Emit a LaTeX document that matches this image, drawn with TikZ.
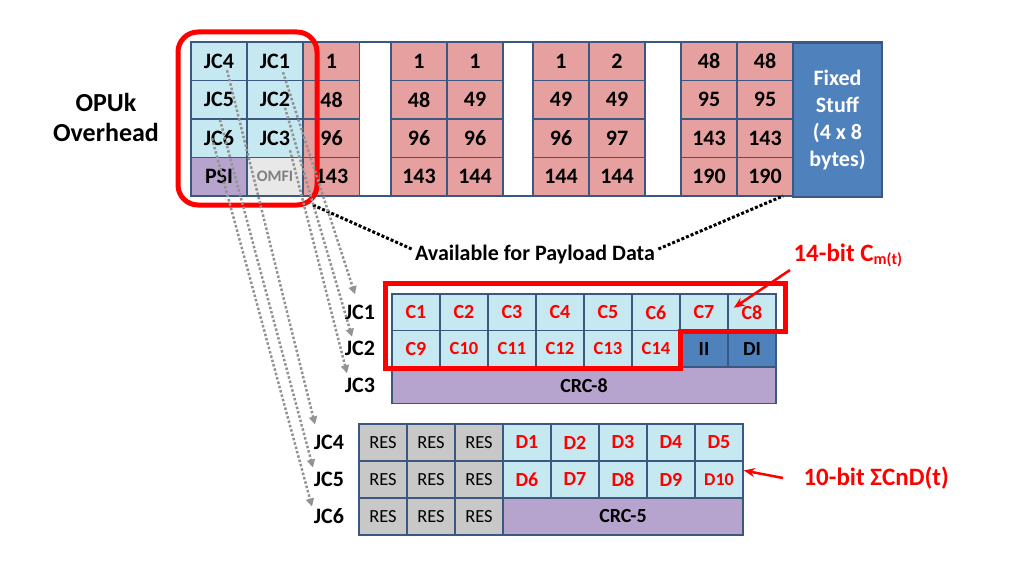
\documentclass[tikz,border=0pt]{standalone}
\usepackage{fontspec}
\setmainfont{Carlito}
\usetikzlibrary{arrows.meta,positioning}

\definecolor{cellline}{RGB}{59,89,128}
\definecolor{cellblue}{RGB}{198,233,241}
\definecolor{cellpink}{RGB}{230,160,160}
\definecolor{cellpurple}{RGB}{182,164,206}
\definecolor{cellgray}{RGB}{200,200,200}
\definecolor{omfigray}{RGB}{232,232,232}
\definecolor{fixedblue}{RGB}{79,129,189}
\definecolor{hlred}{RGB}{255,0,0}

\tikzset{
  cell/.style={draw=cellline, line width=1.6pt, inner sep=0pt,
    font=\fontsize{22}{26}\selectfont\bfseries},
  topcell/.style={cell, minimum width=56pt, minimum height=38.5pt},
  midcell/.style={cell, minimum width=48pt, minimum height=36.5pt,
    font=\fontsize{20}{24}\selectfont\bfseries},
  lowcell/.style={cell, minimum width=48pt, minimum height=37pt,
    font=\fontsize{20}{24}\selectfont\bfseries},
  rescell/.style={lowcell, fill=cellgray, font=\fontsize{18.5}{22}\selectfont},
  jclabel/.style={font=\fontsize{22}{26}\selectfont\bfseries},
  redlabel/.style={font=\fontsize{25}{30}\selectfont\bfseries, text=hlred, anchor=west},
  linkarrow/.style={draw=gray!85, dotted, line width=2.5pt,
    -{Triangle[length=8pt,width=8pt]}},
  payloadline/.style={draw=black, dotted, line width=3pt},
  redarrow/.style={draw=hlred, line width=2.5pt, -{Stealth[length=11pt,width=9pt]}}
}

\begin{document}
\begin{tikzpicture}[x=1pt, y=-1pt]
    \useasboundingbox (0,0) rectangle (1024,580);

    % OPUk label
    \node[font=\fontsize{26}{30}\selectfont\bfseries, align=center] (opuk) at (106,117) {OPUk\\Overhead};

    % Frame outline
    \draw[cellline, line width=1.2pt] (191,42) rectangle (882,196);

    % Overhead columns
    \node[topcell, fill=cellblue] (jc4) at (219,61.25) {JC4};
    \node[topcell, fill=cellblue] (jc5) at (219,99.75) {JC5};
    \node[topcell, fill=cellblue] (jc6) at (219,138.25) {JC6};
    \node[topcell, fill=cellpurple] (psi) at (219,176.75) {PSI};
    \node[topcell, fill=cellblue] (jc1) at (275,61.25) {JC1};
    \node[topcell, fill=cellblue] (jc2) at (275,99.75) {JC2};
    \node[topcell, fill=cellblue] (jc3) at (275,138.25) {JC3};
    \node[topcell, fill=omfigray, text=gray, font=\fontsize{16}{20}\selectfont\bfseries] (omfi) at (275,176.75) {OMFI};

    % Payload columns
    \foreach \x/\col/\vals in {331.5/pa/{1,48,96,143}, 419/pb/{1,48,96,143}, 475/pc/{1,49,96,144},
                               561/pd/{1,49,96,144}, 617/pe/{2,49,97,144},
                               709/pf/{48,95,143,190}, 765/pg/{48,95,143,190}} {
        \foreach \v [count=\r] in \vals {
            \node[topcell, fill=cellpink] (\col\r) at (\x, {22.75+38.5*\r}) {\v};
        }
    }

    % Fixed stuff
    \node[cell, fill=fixedblue, text=white, minimum width=89pt, minimum height=154pt,
          align=center, font=\fontsize{22}{27}\selectfont\bfseries] (fixed) at (837.5,120)
          {Fixed\\Stuff\\(4 x 8\\bytes)};

    % Overhead highlight
    \draw[hlred, line width=5pt, rounded corners=20pt] (178,32) rectangle (317,205);

    % Payload note
    \node[font=\fontsize{22}{26}\selectfont\bfseries] (payload) at (535,255) {Available for Payload Data};
    \coordinate (plstart) at (313,205);
    \coordinate (plend) at (783,196);
    \draw[payloadline] (plstart) -- ([yshift=6pt]payload.west);
    \draw[payloadline] ([yshift=6pt]payload.east) -- (plend);

    % JC1-JC3 bytes
    \foreach \n [count=\i from 0] in {1,...,8} {
        \node[midcell, fill=cellblue, text=hlred] (c\n) at ({416+48*\i},312.25) {C\n};
    }
    \foreach \n/\fsz [count=\i from 0] in {9/20,10/18.5,11/18.5,12/18.5,13/18.5,14/18.5} {
        \node[midcell, fill=cellblue, text=hlred] (c\n) at ({416+48*\i},348.75)
            {\fontsize{\fsz}{\fsz}\selectfont C\n};
    }
    \node[midcell, fill=fixedblue] (ii) at (704,348.75) {II};
    \node[midcell, fill=fixedblue] (di) at (752,348.75) {DI};
    \node[midcell, fill=cellpurple, minimum width=384pt] (crc8) at (584,385.25) {CRC-8};

    \node[jclabel] (l1) at (360,312.25) {JC1};
    \node[jclabel] (l2) at (360,348.75) {JC2};
    \node[jclabel] (l3) at (360,385.25) {JC3};

    % Cm highlight
    \draw[hlred, line width=5pt] (385,283) -- (785,283) -- (785,331) -- (680,331)
        -- (680,368) -- (385,368) -- cycle;

    % JC4-JC6 bytes
    \foreach \r/\y in {1/442.5, 2/479.5, 3/516.5} {
        \foreach \i in {0,1,2} {
            \node[rescell] (res\r\i) at ({383+48*\i},\y) {RES};
        }
    }
    \foreach \n [count=\i from 3] in {1,...,5} {
        \node[lowcell, fill=cellblue, text=hlred] (d\n) at ({383+48*\i},442.5) {D\n};
    }
    \foreach \n/\fsz [count=\i from 3] in {6/20,7/20,8/20,9/20,10/18} {
        \node[lowcell, fill=cellblue, text=hlred] (d\n) at ({383+48*\i},479.5)
            {\fontsize{\fsz}{\fsz}\selectfont D\n};
    }
    \node[lowcell, fill=cellpurple, minimum width=240pt] (crc5) at (623,516.5) {CRC-5};

    \node[jclabel] (l4) at (329,442.5) {JC4};
    \node[jclabel] (l5) at (329,479.5) {JC5};
    \node[jclabel] (l6) at (329,516.5) {JC6};

    % Red notes
    \node[redlabel] (cm) at (790,255)
        {14-bit C{\fontsize{16}{16}\selectfont\raisebox{-3pt}{m(t)}}};
    \node[redlabel] (sig) at (800,478) {10-bit ΣCnD(t)};
    \draw[redarrow, shorten >=8pt] (cm.south west) -- (c8.west);
    \draw[redarrow] ([xshift=-17pt]sig.west) -- (d10.20);

    % Overhead mapping
    \draw[linkarrow] ([shift={(8,9)}]jc4.center) -- ([shift={(-14,-18)}]l4.center);
    \draw[linkarrow] ([shift={(1,20)}]jc5.center) -- ([shift={(-16,-12)}]l5.center);
    \draw[linkarrow] ([shift={(-7,0)}]jc6.center) -- ([shift={(-17,-10)}]l6.center);
    \draw[linkarrow] ([shift={(8,11)}]jc1.center) -- ([shift={(-5,-18)}]l1.center);
    \draw[linkarrow] ([shift={(10,8)}]jc2.center) -- ([shift={(-8,-12)}]l2.center);
    \draw[linkarrow] ([shift={(15,12)}]jc3.center) -- ([shift={(-13,-12)}]l3.center);
\end{tikzpicture}
\end{document}
